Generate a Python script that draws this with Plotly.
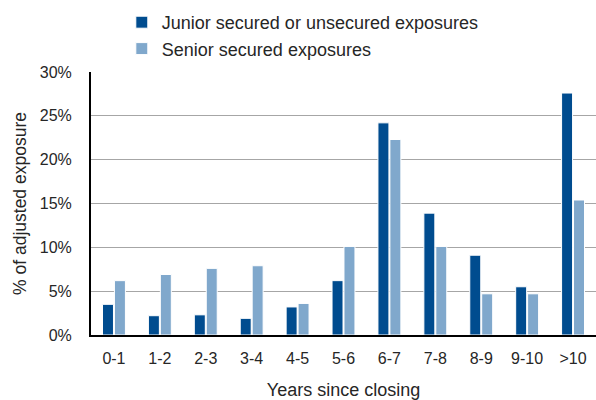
import plotly.graph_objects as go

categories = ["0-1", "1-2", "2-3", "3-4", "4-5", "5-6", "6-7", "7-8", "8-9", "9-10", ">10"]
junior = [3.5, 2.2, 2.3, 1.9, 3.2, 6.2, 24.2, 13.9, 9.1, 5.5, 27.6]
senior = [6.2, 6.9, 7.6, 7.9, 3.6, 10.1, 22.3, 10.1, 4.7, 4.7, 15.4]
y_ticks = [0, 5, 10, 15, 20, 25, 30]

FONT = "Liberation Sans, Arial, sans-serif"
TEXT = "#262626"

fig = go.Figure()
fig.add_trace(go.Bar(
    x=categories, y=junior, name="Junior secured or unsecured exposures",
    marker=dict(color="#004C8F", line=dict(color="white", width=1)),
))
fig.add_trace(go.Bar(
    x=categories, y=senior, name="Senior secured exposures",
    marker=dict(color="#80A8CC", line=dict(color="white", width=1)),
))

fig.update_layout(
    width=596, height=400,
    margin=dict(l=91, r=0, t=72, b=65, autoexpand=False),
    paper_bgcolor="white", plot_bgcolor="white",
    font=dict(family=FONT, size=16, color=TEXT),
    barmode="group", bargap=0.48, bargroupgap=0.08,
    legend=dict(
        x=0.061, y=0.99, xanchor="left", yanchor="top", yref="container",
        orientation="v", traceorder="normal",
        font=dict(family=FONT, size=18, color=TEXT),
        itemwidth=30, tracegroupgap=0, bgcolor="rgba(0,0,0,0)",
    ),
    showlegend=True,
)

fig.update_xaxes(
    showline=True, linecolor="black", linewidth=2,
    showgrid=False, ticks="", ticklabelstandoff=8, automargin=False,
    tickfont=dict(family=FONT, size=16, color=TEXT),
    title=dict(text="Years since closing", standoff=28,
               font=dict(family=FONT, size=18, color=TEXT)),
)
fig.update_yaxes(
    range=[0, 30], tickvals=y_ticks,
    ticktext=[f"{v}%" for v in y_ticks],
    showline=True, linecolor="black", linewidth=2,
    showgrid=True, gridcolor="#A6A6A6", gridwidth=1,
    zeroline=False, ticks="", ticklabelstandoff=14, automargin=False,
    tickfont=dict(family=FONT, size=16, color=TEXT),
    title=dict(text="% of adjusted exposure", standoff=9,
               font=dict(family=FONT, size=17.5, color=TEXT)),
)

fig.write_html("out.html")
